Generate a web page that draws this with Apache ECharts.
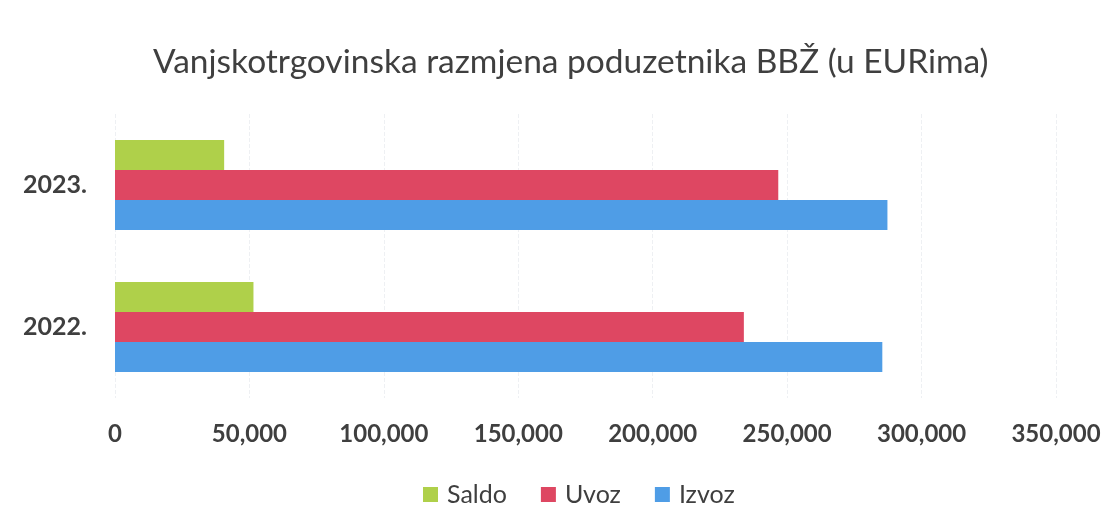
<!DOCTYPE html>
<html>
<head>
<meta charset="utf-8">
<script src="https://cdn.jsdelivr.net/npm/echarts@6/dist/echarts.min.js"></script>
<style>
  html, body { margin: 0; padding: 0; background: #fff; }
  #main { width: 1117px; height: 526px; }
</style>
</head>
<body>
<div id="main"></div>
<script>
// values (EUR)
const years = ["2022.", "2023."];
const izvoz = [285400, 287300];
const uvoz = [233900, 246700];
const saldo = [51500, 40600];
const legendOrder = ["Saldo", "Uvoz", "Izvoz"];

const FONT = "Lato, 'Open Sans', sans-serif";
const TEXT = "#3f3f3f";

const chart = echarts.init(document.getElementById("main"), null, { renderer: "canvas" });

const bar = (name, data, color) => ({
  name, type: "bar", data, barWidth: 30, barGap: "0%",
  itemStyle: { color },
});

chart.setOption({
  animation: false,
  title: {
    text: "Vanjskotrgovinska razmjena poduzetnika BBŽ (u EURima)",
    left: 148, top: 40,
    textStyle: { fontFamily: FONT, fontSize: 33.5, fontWeight: "normal", color: TEXT },
  },
  grid: { left: 115, right: 61, top: 114, bottom: 128, containLabel: false },
  legend: {
    data: legendOrder, bottom: 14, left: 418,
    icon: "rect", itemWidth: 15, itemHeight: 15, itemGap: 34, itemStyle: { borderWidth: 0 },
    textStyle: { fontFamily: FONT, fontSize: 25, color: TEXT, padding: [0, 0, 0, 4] },
  },
  xAxis: {
    type: "value", min: 0, max: 350000, interval: 50000,
    axisLine: { show: false }, axisTick: { show: false },
    splitLine: { lineStyle: { color: "#eef0f3", type: "dashed" } },
    axisLabel: {
      margin: 24, fontFamily: FONT, fontSize: 24, fontWeight: "bold", color: TEXT,
      formatter: (v) => v.toLocaleString("en-US"),
    },
  },
  yAxis: {
    type: "category", data: years,
    axisLine: { show: false }, axisTick: { show: false },
    axisLabel: { margin: 28, fontFamily: FONT, fontSize: 25, fontWeight: "bold", color: TEXT },
  },
  // ECharts stacks horizontal groups top-down in series order
  series: [
    bar("Saldo", saldo, "#afd04a"),
    bar("Uvoz", uvoz, "#de4762"),
    bar("Izvoz", izvoz, "#4f9de6"),
  ],
});

window.addEventListener("resize", () => chart.resize());
</script>
</body>
</html>
